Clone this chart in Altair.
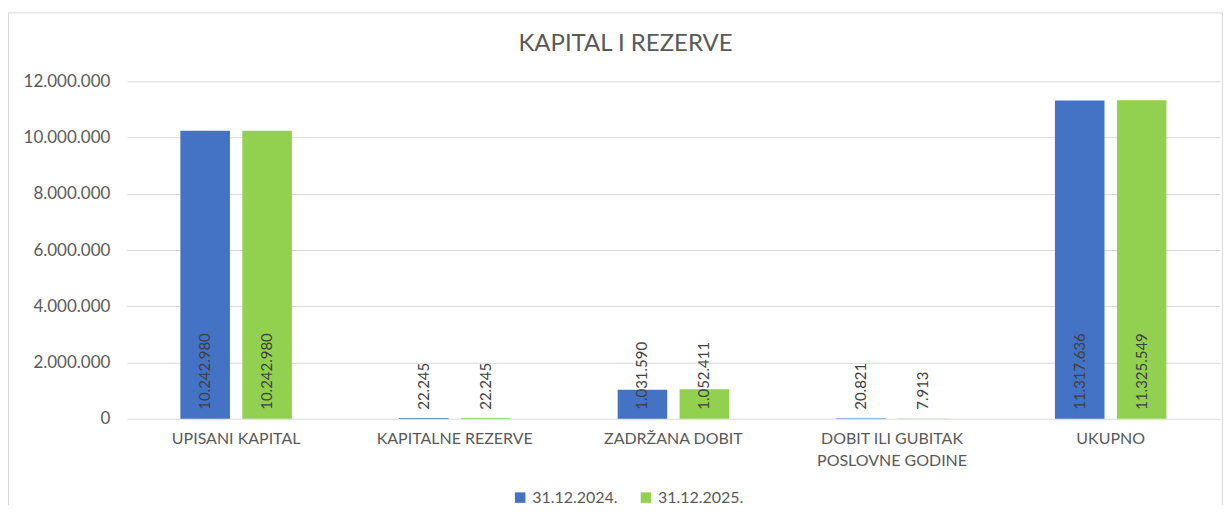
import altair as alt
import pandas as pd

categories = ["UPISANI KAPITAL", "KAPITALNE REZERVE", "ZADRŽANA DOBIT",
              "DOBIT ILI GUBITAK POSLOVNE GODINE", "UKUPNO"]
series = ["31.12.2024.", "31.12.2025."]
values_2024 = [10242980, 22245, 1031590, 20821, 11317636]
values_2025 = [10242980, 22245, 1052411, 7913, 11325549]
colors = ["#4472C4", "#92D050"]
y_ticks = [0, 2000000, 4000000, 6000000, 8000000, 10000000, 12000000]

rows = []
for c, v in zip(categories, values_2024):
    rows.append({"kategorija": c, "datum": series[0], "iznos": v})
for c, v in zip(categories, values_2025):
    rows.append({"kategorija": c, "datum": series[1], "iznos": v})
df = pd.DataFrame(rows)

FONT = "Lato"
GREY = "#595959"
W, H = 1095, 338

x_enc = alt.X("kategorija:N", sort=categories, title=None,
              scale=alt.Scale(paddingInner=0.49, paddingOuter=0.245),
              axis=alt.Axis(labelAngle=0, ticks=False, domain=False,
                            labelFontSize=16, labelColor=GREY, labelFont=FONT,
                            labelPadding=12, labelLineHeight=22,
                            labelExpr="datum.label == 'DOBIT ILI GUBITAK POSLOVNE GODINE' ? ['DOBIT ILI GUBITAK', 'POSLOVNE GODINE'] : datum.label"))
xo_enc = alt.XOffset("datum:N", sort=series,
                     scale=alt.Scale(paddingInner=0.2, paddingOuter=0))

y_scale = alt.Scale(domain=[0, 12000000], nice=False)
y_axis = alt.Axis(values=y_ticks, labelExpr="format(datum.value, ',')",
                  ticks=False, domain=False,
                  labelFontSize=17, labelColor=GREY, labelFont=FONT,
                  labelPadding=17, gridColor="#d9d9d9", gridWidth=1)

base = alt.Chart(df)

bars = base.mark_bar().encode(
    x=x_enc,
    xOffset=xo_enc,
    y=alt.Y("iznos:Q", title=None, scale=y_scale, axis=y_axis),
    color=alt.Color("datum:N", sort=series,
                    scale=alt.Scale(domain=series, range=colors),
                    legend=alt.Legend(title=None, orient="none", direction="horizontal",
                                      legendX=386, legendY=409,
                                      symbolType="square", symbolSize=110,
                                      symbolStrokeWidth=0,
                                      labelFontSize=16, labelColor=GREY, labelFont=FONT,
                                      labelOffset=4, columnPadding=20, padding=0)),
)

labels = base.mark_text(angle=270, align="left", baseline="middle", dx=9,
                        fontSize=15, font=FONT, color="#404040").encode(
    x=alt.X("kategorija:N", sort=categories),
    xOffset=alt.XOffset("datum:N", sort=series),
    y=alt.YDatum(0, scale=y_scale, axis=y_axis),
    text=alt.Text("iznos:Q", format=","),
)

frame = alt.Chart(pd.DataFrame({"f": [0]})).mark_rect(
    fill=None, stroke="#d9d9d9", strokeWidth=1).encode(
    x=alt.value(-118.5), x2=alt.value(1097.5),
    y=alt.value(-68.5), y2=alt.value(500),
)

chart = alt.layer(frame, bars, labels).properties(
    width=W, height=H,
    title=alt.TitleParams("KAPITAL I REZERVE", fontSize=24, color=GREY, font=FONT,
                          fontWeight="normal", offset=26, dx=-48, dy=70),
    autosize=alt.AutoSizeParams(type="none"),
    padding={"left": 119, "top": 73, "right": 3, "bottom": 86},
).configure(
    locale={"number": {"decimal": ",", "thousands": ".", "grouping": [3],
                       "currency": ["", " €"]}},
).configure_view(stroke=None).configure_axis(grid=True).configure_axisX(grid=False)

chart.save("out.html", embed_options={"renderer": "svg", "actions": False})
